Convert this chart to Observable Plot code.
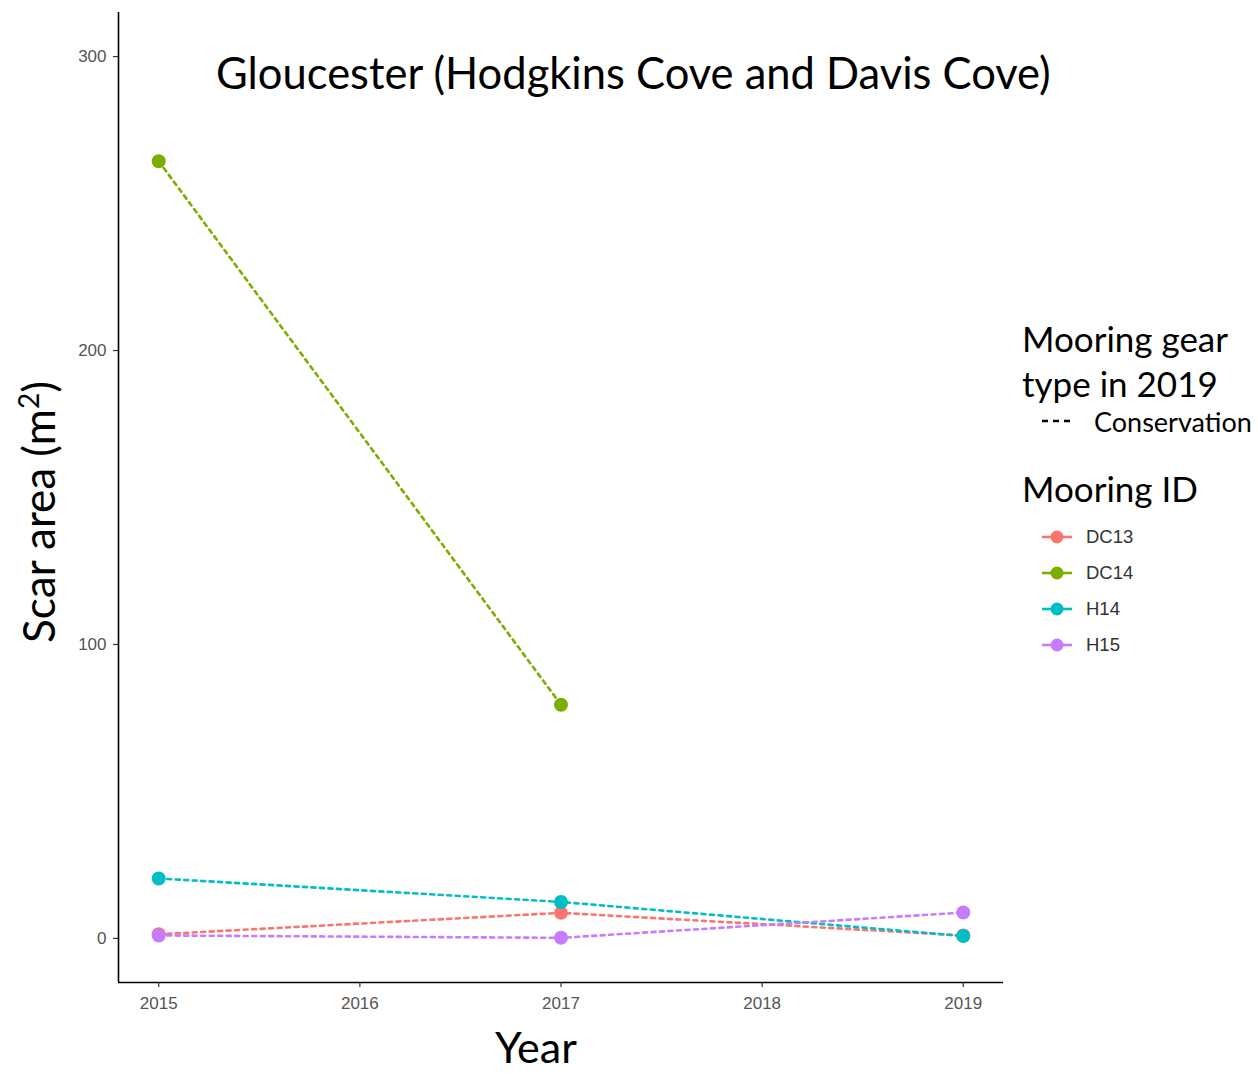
<!DOCTYPE html>
<html>
<head>
<meta charset="utf-8">
<script src="https://cdn.jsdelivr.net/npm/d3@7"></script>
<script src="https://cdn.jsdelivr.net/npm/@observablehq/plot@0.6"></script>
<style>
  body { margin: 0; background: #fff; }
  #wrap { position: relative; width: 1258px; height: 1074px; overflow: hidden; }
  #wrap svg { position: absolute; left: 0; top: 0; }
  .cal { font-family: Lato, "Open Sans", sans-serif; color: #000; position: absolute; white-space: nowrap; }
  .lab { font-family: "Liberation Sans", Arial, sans-serif; color: #4d4d4d; position: absolute; white-space: nowrap; }
</style>
</head>
<body>
<div id="wrap"></div>
<script>
// Scar area per mooring and survey year
const years = [2015, 2017, 2019];
const moorings = ["DC13", "DC14", "H14", "H15"];
const dc13 = [1.4, 8.7, 1.0];
const dc14 = [264.4, 79.5, null];
const h14 = [20.4, 12.4, 0.8];
const h15 = [1.0, 0.2, 8.8];
const gearType = "Conservation";
const colors = ["#F8766D", "#7CAE00", "#00BFC4", "#C77CFF"];
const xTicks = [2015, 2016, 2017, 2018, 2019];
const yTicks = [0, 100, 200, 300];
const xDomain = [2014.8, 2019.2];
const yDomain = [-15, 315];

const series = [dc13, dc14, h14, h15];
const rows = [];
moorings.forEach((m, i) => {
  years.forEach((yr, j) => {
    const v = series[i][j];
    if (v != null) rows.push({mooring: m, year: yr, area: v, gear: gearType});
  });
});

const dash = "4,4.5";

const chart = Plot.plot({
  width: 1258,
  height: 1074,
  marginLeft: 118,
  marginRight: 255,
  marginTop: 12,
  marginBottom: 92,
  style: {background: "#fff", overflow: "visible"},
  x: {domain: xDomain, ticks: xTicks, tickFormat: d => String(d), label: null},
  y: {domain: yDomain, ticks: yTicks, label: null},
  color: {domain: moorings, range: colors},
  marks: [
    Plot.line(rows, {x: "year", y: "area", z: "mooring", stroke: "mooring",
      strokeWidth: 2.6, strokeDasharray: dash}),
    Plot.dot(rows, {x: "year", y: "area", fill: "mooring", r: 7}),
    Plot.ruleX([xDomain[0]], {stroke: "#000", strokeWidth: 1.6}),
    Plot.ruleY([yDomain[0]], {stroke: "#000", strokeWidth: 1.6}),
    Plot.axisX({ticks: xTicks, tickFormat: d => String(d), tickSize: 5, tickPadding: 9,
      fontSize: 17, color: "#555", stroke: "#333", strokeWidth: 1.2, label: null,
      fontFamily: "Liberation Sans, Arial, sans-serif"}),
    Plot.axisY({ticks: yTicks, tickSize: 5, tickPadding: 7, fontSize: 17,
      color: "#555", stroke: "#333", strokeWidth: 1.2, label: null,
      fontFamily: "Liberation Sans, Arial, sans-serif"})
  ]
});

const wrap = document.getElementById("wrap");
wrap.appendChild(chart);

function add(cls, html, css) {
  const d = document.createElement("div");
  d.className = cls;
  d.innerHTML = html;
  Object.assign(d.style, css);
  wrap.appendChild(d);
  return d;
}

// Title and axis titles
add("cal", "Gloucester (Hodgkins Cove and Davis Cove)", {left: "216px", top: "44px", fontSize: "43.5px", lineHeight: "56px"});
add("cal", "Year", {left: "495px", top: "1027px", fontSize: "43px", lineHeight: "40px"});
add("cal", "Scar area (m<sup style='font-size:28px;line-height:0'>2</sup>)", {
  left: "38px", top: "512px", fontSize: "44px", lineHeight: "54px",
  transform: "translate(-50%,-50%) rotate(-90deg)"});

// Legend: gear type (line type)
add("cal", "Mooring gear<br>type in 2019", {left: "1022px", top: "316px", fontSize: "35px", lineHeight: "45px"});
const lt = d3.select(wrap).append("svg").attr("width", 40).attr("height", 20)
  .style("left", "1040px").style("top", "411px");
lt.append("line").attr("x1", 2).attr("x2", 32).attr("y1", 10).attr("y2", 10)
  .attr("stroke", "#000").attr("stroke-width", 2.6).attr("stroke-dasharray", "6,5");
add("cal", gearType, {left: "1094px", top: "405px", fontSize: "27px", lineHeight: "34px"});

// Legend: mooring colour
add("cal", "Mooring ID", {left: "1022px", top: "466px", fontSize: "35px", lineHeight: "45px"});
moorings.forEach((m, i) => {
  const y = 537 + i * 36;
  const s = d3.select(wrap).append("svg").attr("width", 36).attr("height", 20)
    .style("left", "1040px").style("top", (y - 10) + "px");
  s.append("line").attr("x1", 2).attr("x2", 32).attr("y1", 10).attr("y2", 10)
    .attr("stroke", colors[i]).attr("stroke-width", 2.6);
  s.append("circle").attr("cx", 17).attr("cy", 10).attr("r", 6.5).attr("fill", colors[i]);
  add("lab", m, {left: "1086px", top: (y - 11) + "px", fontSize: "18.5px", lineHeight: "22px", color: "#333"});
});
</script>
</body>
</html>
